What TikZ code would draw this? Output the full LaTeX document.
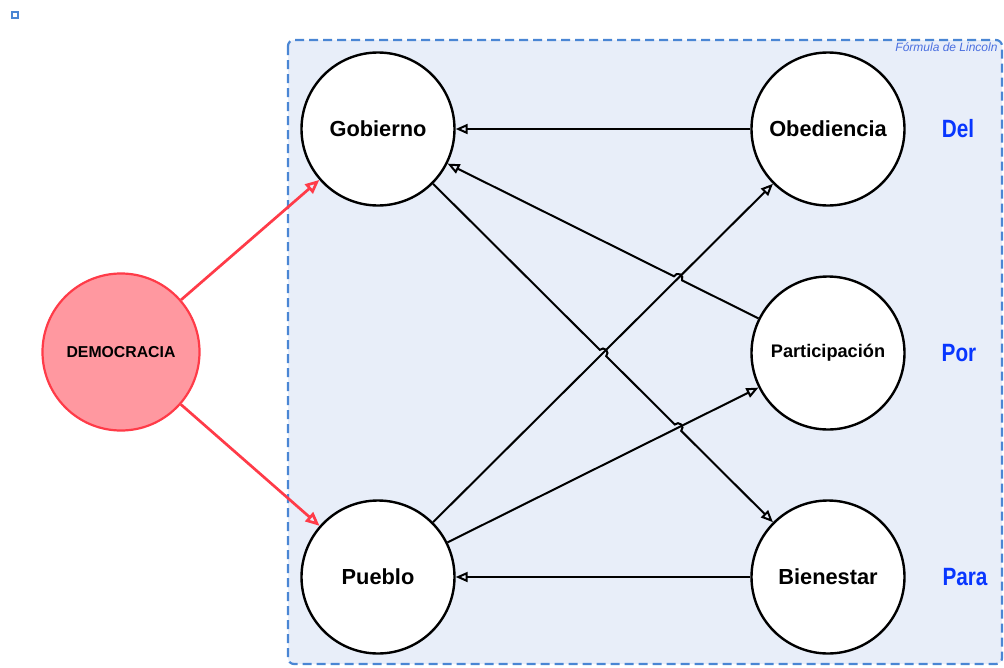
\documentclass[tikz,border=0pt]{standalone}
\usepackage{fontspec}
\setmainfont{Liberation Sans}
\newfontfamily\condfont[FakeStretch=0.83]{Liberation Sans}
\usetikzlibrary{arrows.meta,calc}
\definecolor{framefill}{HTML}{E8EEF9}
\definecolor{framedash}{HTML}{4A86D4}
\definecolor{demred}{HTML}{FF3B48}
\definecolor{dempink}{HTML}{FF98A0}
\definecolor{labelblue}{HTML}{0836FF}
\definecolor{noteblue}{HTML}{4A6FE0}
\tikzset{
  circ/.style={circle, draw=black, line width=2.4pt, fill=white, minimum size=153pt, inner sep=0pt,
    font=\fontsize{21.8}{26}\selectfont\bfseries},
  demcirc/.style={circle, draw=demred, line width=2.2pt, fill=dempink, minimum size=157pt, inner sep=0pt,
    font=\fontsize{15.8}{18}\selectfont\bfseries},
  arr/.style={draw=black, line width=2pt, -{Triangle[open, length=12pt, width=10pt]}},
  redarr/.style={draw=demred, line width=2.7pt, -{Triangle[open, length=14pt, width=12pt]}},
  side/.style={text=labelblue, font=\condfont\fontsize{25}{30}\selectfont\bfseries},
  frame/.style={draw=framedash, fill=framefill, line width=2.2pt, dash pattern=on 9pt off 5pt, rounded corners=6pt},
}
\begin{document}
\begin{tikzpicture}[x=1pt,y=1pt]
\useasboundingbox (0,0) rectangle (1004,-667);
\node[draw=framedash, fill=white, line width=1.4pt, minimum size=6pt, inner sep=0pt] (marker) at (15,-15) {};
\path[frame] (288,-40) rectangle (1002,-664);
\node[anchor=east, text=noteblue, font=\fontsize{12}{14}\selectfont\itshape] (note) at (1001,-47) {Fórmula de Lincoln};

\node[circ] (gob) at (378,-129) {Gobierno};
\node[circ] (obe) at (828,-129) {Obediencia};
\node[circ, font=\fontsize{18.2}{21}\selectfont\bfseries] (par) at (828,-353) {Participación};
\node[circ] (bie) at (828,-577) {Bienestar};
\node[circ] (pue) at (378,-577) {Pueblo};
\node[demcirc] (dem) at (121,-352) {DEMOCRACIA};

\node[side] (del) at (958,-129) {Del};
\node[side] (por) at (959,-353) {Por};
\node[side] (para) at (965,-577) {Para};

\coordinate (x1) at ($(par)!1/3!(gob)$);
\coordinate (x2) at ($(gob)!1/2!(bie)$);
\coordinate (x3) at ($(gob)!2/3!(bie)$);

\draw[arr] (obe) -- (gob);
\draw[arr] (bie) -- (pue);
\draw[arr] (pue) -- (obe);
\draw[arr] (pue) -- (par);
\draw[arr] (par) -- ($(x1)!4.5pt!(par)$) arc[start angle=-26.46, end angle=153.54, radius=4.5pt] -- (gob);
\draw[arr] (gob) -- ($(x2)!4.5pt!(gob)$) arc[start angle=135.13, end angle=-44.87, radius=4.5pt]
  -- ($(x3)!4.5pt!(gob)$) arc[start angle=135.13, end angle=-44.87, radius=4.5pt] -- (bie);

\draw[redarr] (dem) -- (gob);
\draw[redarr] (dem) -- (pue);
\end{tikzpicture}
\end{document}
